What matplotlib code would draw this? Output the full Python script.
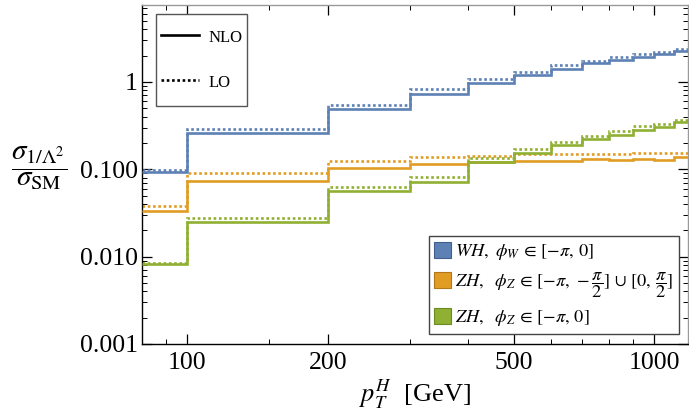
import numpy as np
import matplotlib
matplotlib.use("Agg")
import matplotlib.pyplot as plt
from matplotlib.lines import Line2D
from matplotlib.patches import Patch
from matplotlib.ticker import FixedLocator, NullFormatter

plt.rcParams['font.family'] = 'serif'
plt.rcParams['font.serif'] = ['Liberation Serif', 'STIXGeneral', 'DejaVu Serif']
plt.rcParams['mathtext.fontset'] = 'stix'

# bin edges in pT^H [GeV]
edges = [80, 100, 200, 300, 400, 500, 600, 700, 800, 900, 1000, 1100, 1200]

# WH, phi_W in [-pi, 0]
wh_nlo = [0.092, 0.26, 0.49, 0.73, 0.96, 1.21, 1.41, 1.63, 1.79, 1.94, 2.10, 2.29]
wh_lo = [0.098, 0.29, 0.55, 0.82, 1.07, 1.31, 1.55, 1.74, 1.94, 2.10, 2.23, 2.41]
# ZH, phi_Z in [-pi,-pi/2] u [0,pi/2]
zh1_nlo = [0.033, 0.074, 0.103, 0.114, 0.122, 0.124, 0.124, 0.130, 0.129, 0.131, 0.129, 0.137]
zh1_lo = [0.038, 0.090, 0.124, 0.137, 0.143, 0.149, 0.149, 0.151, 0.151, 0.152, 0.152, 0.155]
# ZH, phi_Z in [-pi, 0]
zh2_nlo = [0.0082, 0.025, 0.056, 0.072, 0.120, 0.153, 0.190, 0.221, 0.249, 0.283, 0.303, 0.344]
zh2_lo = [0.0085, 0.028, 0.063, 0.081, 0.135, 0.170, 0.206, 0.241, 0.271, 0.311, 0.330, 0.369]

labels = [r'$WH,\ \phi_W\, \in\, [-\pi,\,0]$',
          r'$ZH,\ \ \phi_Z\, \in\, [-\pi,\,-\dfrac{\pi}{2}]\, \cup\, [0,\,\dfrac{\pi}{2}]$',
          r'$ZH,\ \ \phi_Z\, \in\, [-\pi,\,0]$']
colors = ['#5E81B5', '#E19C24', '#8FB032']
edgecols = ['#3f5f8f', '#b07818', '#6a8a22']

yticks = [0.001, 0.01, 0.1, 1]
ytick_labels = ['0.001', '0.010', '0.100', '1']
xticks = [100, 200, 500, 1000]
xminor = [90, 150, 300, 400, 600, 700, 800, 900]

fig = plt.figure(figsize=(6.89, 4.12), dpi=100)
ax = fig.add_axes([142 / 689, 68 / 412, 546 / 689, 339 / 412])

series = [(wh_nlo, wh_lo), (zh1_nlo, zh1_lo), (zh2_nlo, zh2_lo)]
for (nlo, lo), c in zip(series, colors):
    ax.stairs(lo, edges, baseline=None, color=c, lw=1.9, ls=(0, (1, 1)), zorder=2)
    ax.stairs(nlo, edges, baseline=None, color=c, lw=1.9, zorder=3)

ax.set_xscale('log')
ax.set_yscale('log')
ax.set_xlim(80, 1181)
ax.set_ylim(0.001, 7.6)

ax.xaxis.set_major_locator(FixedLocator(xticks))
ax.xaxis.set_minor_locator(FixedLocator(xminor))
ax.xaxis.set_minor_formatter(NullFormatter())
ax.set_xticklabels([str(t) for t in xticks])
ax.set_yticks(yticks)
ax.set_yticklabels(ytick_labels)
ax.yaxis.set_minor_locator(FixedLocator(
    [m * 10.0 ** e for e in range(-3, 1) for m in range(2, 10)]))
ax.yaxis.set_minor_formatter(NullFormatter())

ax.tick_params(which='both', direction='in', top=True, right=True,
               labelsize=18.5, color='black')
ax.tick_params(which='major', length=7, width=0.9)
ax.tick_params(which='minor', length=3.5, width=0.7)
ax.tick_params(axis='x', pad=6)
ax.tick_params(axis='y', pad=3)

for s in ['left', 'bottom']:
    ax.spines[s].set_color('black')
    ax.spines[s].set_linewidth(1.0)
for s in ['top', 'right']:
    ax.spines[s].set_color('#999999')
    ax.spines[s].set_linewidth(1.0)

ax.set_xlabel(r'$p_T^H$  [GeV]', fontsize=19, labelpad=2)
fig.text(0.057, 0.592, r'$\dfrac{\sigma_{1/\Lambda^2}}{\sigma_{\rm SM}}$',
         fontsize=21, ha='center', va='center')

# line style legend
style_handles = [Line2D([], [], color='black', lw=1.9),
                 Line2D([], [], color='black', lw=1.9, ls=(0, (1, 1)))]
leg1 = ax.legend(style_handles, ['NLO', 'LO'], loc='upper left',
                 bbox_to_anchor=(0.0256, 0.973), borderaxespad=0,
                 fontsize=12, handlelength=2.3, handleheight=3.0,
                 labelspacing=0.5, borderpad=0.3, handletextpad=0.55,
                 fancybox=False, edgecolor='#555555', framealpha=1)
leg1.get_frame().set_linewidth(1.0)
# pull the sample lines down to the middle of the text
for ln in leg1.get_lines():
    ln.set_ydata(np.asarray(ln.get_ydata()) - 3)
ax.add_artist(leg1)

patch_handles = [Patch(facecolor=c, edgecolor=e, lw=0.8)
                 for c, e in zip(colors, edgecols)]
leg2 = ax.legend(patch_handles, labels, loc='lower right',
                 bbox_to_anchor=(0.9835, 0.0295), borderaxespad=0,
                 fontsize=13.2, handlelength=0.95, handleheight=0.95,
                 labelspacing=0.45, borderpad=0.3, handletextpad=0.2,
                 fancybox=False, edgecolor='#444444', framealpha=1)
leg2.get_frame().set_linewidth(1.0)

fig.savefig('out.png', dpi=100)
